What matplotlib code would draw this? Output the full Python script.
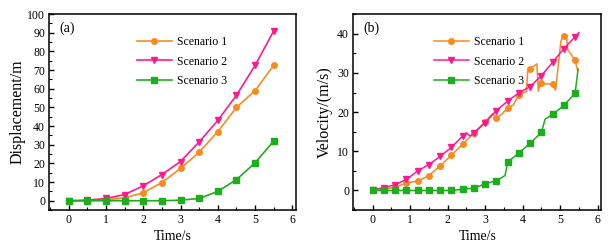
import matplotlib
matplotlib.use('Agg')
import matplotlib.pyplot as plt
from matplotlib.ticker import MultipleLocator

plt.rcParams['font.family'] = ['Liberation Serif', 'DejaVu Serif']
plt.rcParams['font.size'] = 8

# (a) displacement, sampled every 0.5 s
t_a = [0, 0.5, 1.0, 1.5, 2.0, 2.5, 3.0, 3.5, 4.0, 4.5, 5.0, 5.5]
disp_s1 = [0, 0, 0.5, 1.5, 4.3, 9.7, 17.3, 26, 37, 50, 59, 72.5]
disp_s2 = [0, 0.3, 1.2, 3.3, 8, 14, 21, 31.5, 43, 56.5, 72.5, 91]
disp_s3 = [0, 0, 0, 0, 0, 0, 0.3, 1.2, 5, 11.3, 20.3, 32]

# (b) velocity, markers every 0.3 s, extra path points between them
t_s1 = [0, 0.3, 0.6, 0.9, 1.2, 1.5, 1.8, 2.1, 2.4, 2.7, 3.0, 3.2, 3.3, 3.45, 3.6,
        3.75, 3.9, 4.1, 4.14, 4.2, 4.38, 4.42, 4.47, 4.5, 4.8, 4.88, 5.02,
        5.08, 5.1, 5.17, 5.2, 5.4, 5.47]
vel_s1 = [0.2, 0.3, 0.8, 1.9, 2.4, 3.8, 6.3, 9.0, 11.8, 14.7, 17.6, 19.6, 18.5,
          19.5, 21.1, 21.8, 24.4, 25.2, 31.0, 31.0, 32.3, 25.3, 27.6, 27.3,
          27.1, 25.6, 38.0, 39.6, 39.4, 39.5, 36.0, 33.2, 30.5]
mark_s1 = [0, 1, 2, 3, 4, 5, 6, 7, 8, 9, 10, 12, 14, 16, 19, 23, 24, 28, 31]

t_s2 = [0, 0.3, 0.6, 0.9, 1.2, 1.5, 1.8, 2.1, 2.4, 2.5, 2.6, 2.7, 3.0, 3.3, 3.6,
        3.9, 4.2, 4.5, 4.8, 5.1, 5.4, 5.5]
vel_s2 = [0.2, 0.7, 1.5, 2.8, 5.0, 6.6, 8.7, 11.0, 13.9, 14.7, 13.9, 14.6, 17.3,
          20.4, 22.8, 24.9, 26.5, 29.3, 32.7, 36.2, 39.2, 40.3]
mark_s2 = [0, 1, 2, 3, 4, 5, 6, 7, 8, 11, 12, 13, 14, 15, 16, 17, 18, 19, 20]

t_s3 = [0, 0.3, 0.6, 0.9, 1.2, 1.5, 1.8, 2.1, 2.4, 2.7, 3.0, 3.3, 3.53, 3.6, 3.9,
        4.2, 4.5, 4.6, 4.8, 5.1, 5.4, 5.48]
vel_s3 = [0, 0, 0, 0, 0, 0, 0, 0, 0.3, 0.6, 1.7, 2.5, 3.8, 7.2, 9.6, 12.0, 14.8,
          18.2, 19.4, 21.7, 24.8, 31.0]
mark_s3 = [0, 1, 2, 3, 4, 5, 6, 7, 8, 9, 10, 11, 13, 14, 15, 16, 18, 19, 20]

c1, c2, c3 = '#fb8a1e', '#ff1a8c', '#1cae1c'
labels = ['Scenario 1', 'Scenario 2', 'Scenario 3']


def style_axes(ax):
    ax.tick_params(which='both', direction='in', top=False, right=False,
                   labelsize=8.5, pad=3)
    ax.tick_params(which='major', length=3.5, width=1.0)
    ax.tick_params(which='minor', length=2, width=0.8)
    ax.set_xlim(-0.52, 6.1)
    ax.xaxis.set_major_locator(MultipleLocator(1))
    ax.xaxis.set_minor_locator(MultipleLocator(0.5))
    ax.set_xlabel('Time/s', fontsize=10, labelpad=3)
    for s in ax.spines.values():
        s.set_linewidth(1.1)


fig = plt.figure(figsize=(6.08, 2.48), dpi=100)
ax1 = fig.add_axes([0.081, 0.153, 0.406, 0.79])
ax2 = fig.add_axes([0.581, 0.153, 0.408, 0.79])

kw = dict(lw=1.2, ms=4)
ax1.plot(t_a, disp_s1, '-o', color=c1, label=labels[0], **kw)
ax1.plot(t_a, disp_s2, '-v', color=c2, label=labels[1], **kw)
ax1.plot(t_a, disp_s3, '-s', color=c3, label=labels[2], **kw)
ax1.set_ylim(-5, 100)
ax1.yaxis.set_major_locator(MultipleLocator(10))
ax1.yaxis.set_minor_locator(MultipleLocator(5))
ax1.set_ylabel('Displacement/m', fontsize=11.5, labelpad=1)
style_axes(ax1)
ax1.text(0.04, 0.96, '(a)', transform=ax1.transAxes, ha='left', va='top',
         fontsize=10)
ax1.legend(loc='upper left', bbox_to_anchor=(0.335, 0.91), frameon=False,
           handlelength=3.0, labelspacing=0.6, handletextpad=0.4,
           borderaxespad=0, fontsize=8.5)

kw = dict(lw=1.1, ms=4)
ax2.plot(t_s1, vel_s1, '-o', color=c1, markevery=mark_s1, label=labels[0], **kw)
ax2.plot(t_s2, vel_s2, '-v', color=c2, markevery=mark_s2, label=labels[1], **kw)
ax2.plot(t_s3, vel_s3, '-s', color=c3, markevery=mark_s3, label=labels[2], **kw)
ax2.set_ylim(-5, 45)
ax2.yaxis.set_major_locator(MultipleLocator(10))
ax2.yaxis.set_minor_locator(MultipleLocator(5))
ax2.set_ylabel('Velocity/(m/s)', fontsize=11.5, labelpad=3)
style_axes(ax2)
ax2.text(0.04, 0.96, '(b)', transform=ax2.transAxes, ha='left', va='top',
         fontsize=10)
ax2.legend(loc='upper left', bbox_to_anchor=(0.305, 0.91), frameon=False,
           handlelength=3.0, labelspacing=0.6, handletextpad=0.4,
           borderaxespad=0, fontsize=8.5)

fig.savefig('out.png', dpi=100)
